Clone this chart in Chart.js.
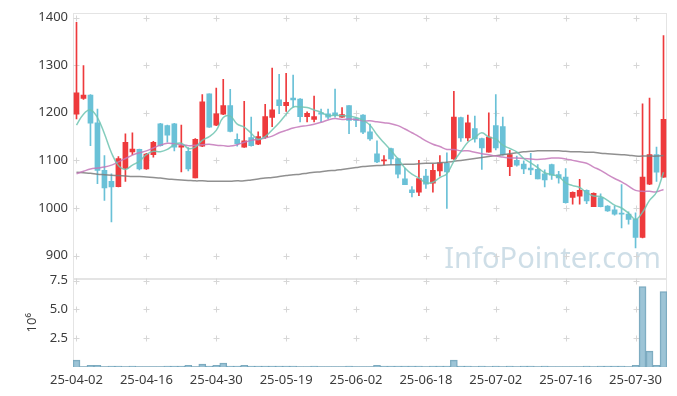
<!DOCTYPE html>
<html>
<head>
<meta charset="utf-8">
<style>
  html, body { margin: 0; padding: 0; background: #fff; }
  #wrap { width: 677px; height: 396px; }
</style>
</head>
<body>
<div id="wrap"><canvas id="stockChart" width="677" height="396"></canvas></div>
<script src="https://cdn.jsdelivr.net/npm/chart.js@4.4.1/dist/chart.umd.min.js"></script>
<script>
// 거래일
const dates = [
  '25-04-02','25-04-03','25-04-04','25-04-07','25-04-08','25-04-09','25-04-10','25-04-11','25-04-14','25-04-15',
  '25-04-16','25-04-17','25-04-18','25-04-21','25-04-22','25-04-23','25-04-24','25-04-25','25-04-28','25-04-29',
  '25-04-30','25-05-02','25-05-07','25-05-08','25-05-09','25-05-12','25-05-13','25-05-14','25-05-15','25-05-16',
  '25-05-19','25-05-20','25-05-21','25-05-22','25-05-23','25-05-26','25-05-27','25-05-28','25-05-29','25-05-30',
  '25-06-02','25-06-04','25-06-05','25-06-09','25-06-10','25-06-11','25-06-12','25-06-13','25-06-16','25-06-17',
  '25-06-18','25-06-19','25-06-20','25-06-23','25-06-24','25-06-25','25-06-26','25-06-27','25-06-30','25-07-01',
  '25-07-02','25-07-03','25-07-04','25-07-07','25-07-08','25-07-09','25-07-10','25-07-11','25-07-14','25-07-15',
  '25-07-16','25-07-17','25-07-18','25-07-21','25-07-22','25-07-23','25-07-24','25-07-25','25-07-28','25-07-29',
  '25-07-30','25-07-31','25-08-01','25-08-04','25-08-05'
];

const opens = [
  1197,1230,1237,1179,1079,1056,1045,1083,1118,1123,
  1082,1112,1177,1173,1177,1128,1119,1063,1130,1240,
  1174,1197,1215,1144,1128,1148,1134,1149,1190,1227,
  1215,1231,1229,1192,1186,1200,1198,1200,1191,1215,
  1188,1195,1160,1114,1099,1125,1104,1061,1038,1033,
  1067,1052,1078,1094,1103,1190,1147,1167,1146,1117,
  1173,1171,1087,1100,1092,1084,1081,1072,1091,1070,
  1065,1022,1025,1037,1003,1022,1004,996,988,987,
  976,938,1050,1112,1065
];
const highs = [
  1390,1299,1238,1208,1110,1072,1108,1156,1158,1124,
  1115,1140,1178,1174,1178,1174,1127,1146,1238,1240,
  1252,1270,1249,1156,1224,1191,1160,1218,1294,1281,
  1283,1279,1230,1202,1235,1208,1208,1250,1211,1215,
  1190,1196,1176,1141,1110,1126,1105,1084,1045,1100,
  1081,1092,1110,1116,1245,1191,1195,1193,1147,1200,
  1238,1191,1121,1109,1099,1115,1091,1080,1092,1077,
  1083,1034,1060,1038,1032,1030,1005,1004,1049,992,
  990,1219,1231,1128,1362
];
const lows = [
  1187,1228,1131,1051,1016,971,1044,1056,1112,1080,
  1081,1107,1130,1138,1120,1076,1078,1063,1129,1169,
  1173,1196,1160,1130,1127,1130,1133,1146,1171,1198,
  1203,1212,1181,1181,1181,1181,1187,1191,1190,1156,
  1171,1156,1142,1095,1091,1091,1063,1049,1023,1026,
  1041,1033,1067,999,1102,1140,1141,1138,1081,1117,
  1122,1111,1068,1088,1072,1070,1061,1044,1060,1052,
  1010,1008,1008,1009,1003,1002,993,985,958,966,
  916,937,1049,1056,1064
];
const closes = [
  1242,1237,1178,1079,1042,1044,1104,1138,1124,1082,
  1113,1138,1131,1153,1128,1131,1082,1144,1223,1170,
  1198,1215,1161,1135,1141,1131,1150,1192,1206,1215,
  1222,1227,1192,1199,1192,1197,1191,1195,1196,1184,
  1184,1159,1145,1097,1101,1103,1071,1049,1032,1062,
  1050,1079,1095,1076,1191,1147,1179,1145,1126,1149,
  1126,1112,1112,1090,1082,1080,1061,1059,1069,1063,
  1011,1033,1037,1015,1031,1003,994,987,987,976,
  938,1065,1112,1075,1186
];

// 이동평균선 (5 / 20 / 60일)
const ma5 = [
  1174,1197,1206,1190,1156,1116,1089,1081,1090,1098,
  1112,1119,1118,1123,1133,1136,1125,1128,1142,1150,
  1163,1190,1193,1176,1170,1157,1144,1150,1164,1179,
  1197,1212,1212,1211,1206,1201,1194,1195,1194,1193,
  1190,1184,1174,1154,1137,1121,1103,1084,1071,1063,
  1053,1054,1064,1072,1098,1118,1138,1148,1158,1149,
  1145,1132,1125,1118,1104,1095,1085,1074,1070,1066,
  1053,1047,1043,1032,1025,1024,1016,1006,1000,989,
  976,991,1016,1033,1075
];
const ma20 = [
  1072,1077,1082,1084,1086,1090,1097,1104,1111,1116,
  1120,1126,1132,1136,1135,1133,1131,1132,1133,1134,
  1132,1131,1130,1133,1138,1142,1144,1147,1151,1158,
  1163,1168,1171,1173,1176,1180,1185,1188,1186,1187,
  1186,1183,1183,1181,1179,1177,1173,1166,1158,1150,
  1141,1134,1129,1123,1123,1120,1120,1117,1114,1112,
  1109,1107,1105,1105,1104,1103,1102,1103,1105,1105,
  1103,1100,1097,1094,1086,1079,1070,1062,1055,1046,
  1037,1035,1035,1034,1039
];
const ma60 = [
  1075,1074,1073,1071,1070,1069,1068,1067,1066,1066,
  1065,1064,1063,1061,1060,1059,1058,1057,1057,1056,
  1056,1056,1056,1057,1057,1059,1061,1063,1064,1066,
  1068,1070,1071,1073,1075,1076,1078,1079,1081,1083,
  1085,1087,1088,1089,1090,1091,1091,1092,1092,1093,
  1094,1094,1095,1096,1098,1100,1102,1104,1106,1108,
  1110,1112,1114,1116,1118,1119,1120,1120,1120,1120,
  1119,1118,1118,1117,1117,1115,1114,1113,1112,1111,
  1109,1109,1109,1109,1110
];

// 거래량 (백만 주)
const volumes = [
  0.6,0.03,0.15,0.15,0.03,0.08,0.08,0.03,0.08,0.03,
  0.03,0.03,0.03,0.08,0.08,0.08,0.15,0.03,0.25,0.08,
  0.15,0.35,0.08,0.08,0.15,0.08,0.08,0.08,0.08,0.08,
  0.08,0.08,0.03,0.03,0.08,0.03,0.03,0.03,0.03,0.08,
  0.03,0.03,0.03,0.15,0.08,0.08,0.08,0.08,0.08,0.08,
  0.03,0.08,0.08,0.08,0.6,0.08,0.08,0.03,0.08,0.03,
  0.08,0.03,0.08,0.03,0.08,0.08,0.03,0.08,0.03,0.03,
  0.03,0.03,0.03,0.08,0.03,0.08,0.08,0.08,0.08,0.03,
  0.15,6.98,1.38,0.15,6.55
];

const priceTicks = [900, 1000, 1100, 1200, 1300, 1400];
const volumeTicks = [2.5, 5.0, 7.5];

const UP = 'rgb(238, 58, 60)';
const DOWN = 'rgb(106, 193, 215)';
const TICK_FONT = { family: "'Noto Sans', sans-serif", size: 13 };
const TICK_COLOR = '#3c3c3c';

const candleColors = closes.map((c, i) => c >= opens[i] ? UP : DOWN);
const wickData = lows.map((l, i) => [l, highs[i]]);
const bodyData = opens.map((o, i) => [o, closes[i]]);

// 격자 십자 표시, 패널 테두리, 워터마크
const panelDecor = {
    id: 'panelDecor',
    beforeDatasetsDraw(chart) {
        const { ctx, scales } = chart;
        const x = scales.x, y = scales.y, yv = scales.yv;
        ctx.save();

        // 워터마크
        ctx.fillStyle = 'rgba(165, 195, 212, 0.55)';
        ctx.font = "100px 'Noto Sans', sans-serif";
        const w100 = ctx.measureText('InfoPointer.com').width;
        const size = 100 * 217 / w100;
        ctx.font = size + "px 'Noto Sans', sans-serif";
        ctx.textAlign = 'right';
        ctx.textBaseline = 'alphabetic';
        ctx.fillText('InfoPointer.com', x.right - 6, y.bottom - 10);

        // 테두리
        ctx.strokeStyle = '#e4e4e4';
        ctx.lineWidth = 1;
        ctx.strokeRect(Math.round(x.left) + 0.5, Math.round(y.top) + 0.5, Math.round(x.right - x.left) - 1, Math.round(y.bottom - y.top));
        ctx.strokeRect(Math.round(x.left) + 0.5, Math.round(yv.top) + 0.5, Math.round(x.right - x.left) - 1, Math.round(yv.bottom - yv.top) - 1);

        // 십자
        ctx.strokeStyle = '#d6d6d6';
        const arm = 3;
        const cross = (px, py) => {
            px = Math.round(px) + 0.5;
            py = Math.round(py) + 0.5;
            ctx.beginPath();
            ctx.moveTo(px - arm, py); ctx.lineTo(px + arm, py);
            ctx.moveTo(px, py - arm); ctx.lineTo(px, py + arm);
            ctx.stroke();
        };
        dates.forEach((d, i) => {
            if (i % 10 !== 0) return;
            const px = x.getPixelForValue(i);
            priceTicks.forEach(v => cross(px, y.getPixelForValue(v)));
            volumeTicks.forEach(v => cross(px, yv.getPixelForValue(v)));
        });
        ctx.restore();
    }
};

document.addEventListener('DOMContentLoaded', () => {
    const ctx = document.getElementById('stockChart').getContext('2d');

    new Chart(ctx, {
        type: 'bar',
        data: {
            labels: dates,
            datasets: [
                {
                    type: 'line', label: 'MA5', data: ma5, yAxisID: 'y',
                    borderColor: 'rgba(110, 196, 178, 0.85)', borderWidth: 1.5,
                    pointRadius: 0, tension: 0.4, order: 1
                },
                {
                    type: 'line', label: 'MA20', data: ma20, yAxisID: 'y',
                    borderColor: 'rgba(196, 120, 186, 0.85)', borderWidth: 1.5,
                    pointRadius: 0, tension: 0.4, order: 1
                },
                {
                    type: 'line', label: 'MA60', data: ma60, yAxisID: 'y',
                    borderColor: 'rgba(125, 125, 125, 0.85)', borderWidth: 1.5,
                    pointRadius: 0, tension: 0.4, order: 1
                },
                {
                    label: 'wick', data: wickData, yAxisID: 'y',
                    backgroundColor: candleColors, barThickness: 1,
                    grouped: false, order: 3
                },
                {
                    label: 'body', data: bodyData, yAxisID: 'y',
                    backgroundColor: candleColors, barThickness: 5,
                    minBarLength: 1, grouped: false, order: 2
                },
                {
                    label: 'volume', data: volumes, yAxisID: 'yv',
                    backgroundColor: 'rgba(140, 186, 207, 0.85)',
                    borderColor: 'rgba(108, 158, 182, 0.9)', borderWidth: 1,
                    barPercentage: 1, categoryPercentage: 1,
                    grouped: false, order: 4
                }
            ]
        },
        options: {
            responsive: false,
            animation: false,
            devicePixelRatio: 1,
            layout: { padding: { top: 10, right: 10, left: 0, bottom: 0 } },
            plugins: {
                legend: { display: false },
                tooltip: { enabled: false }
            },
            scales: {
                x: {
                    offset: true,
                    grid: { display: false, drawTicks: false },
                    border: { display: false },
                    ticks: {
                        autoSkip: false, maxRotation: 0, padding: 5,
                        font: TICK_FONT, color: TICK_COLOR,
                        callback: (v, i) => i % 10 === 0 ? dates[i] : null
                    },
                    afterFit: s => { s.height = 29; }
                },
                yv: {
                    position: 'left', stack: 'panels', stackWeight: 1,
                    min: 0, max: 7.69,
                    grid: { display: false, drawTicks: false },
                    border: { display: false },
                    afterBuildTicks: s => { s.ticks = volumeTicks.map(v => ({ value: v })); },
                    ticks: {
                        autoSkip: false, padding: 5,
                        font: TICK_FONT, color: TICK_COLOR,
                        callback: v => v.toFixed(1)
                    },
                    title: {
                        display: true, text: '10⁶', color: TICK_COLOR,
                        font: TICK_FONT, padding: { top: 24, bottom: 0 }
                    },
                    afterFit: s => { s.width = 73; }
                },
                y: {
                    position: 'left', stack: 'panels', stackWeight: 3,
                    min: 852, max: 1410,
                    grid: { display: false, drawTicks: false },
                    border: { display: false },
                    afterBuildTicks: s => { s.ticks = priceTicks.map(v => ({ value: v })); },
                    ticks: {
                        autoSkip: false, padding: 5,
                        font: TICK_FONT, color: TICK_COLOR,
                        callback: v => String(v)
                    },
                    afterFit: s => { s.width = 73; }
                }
            }
        },
        plugins: [panelDecor]
    });
});
</script>
</body>
</html>
